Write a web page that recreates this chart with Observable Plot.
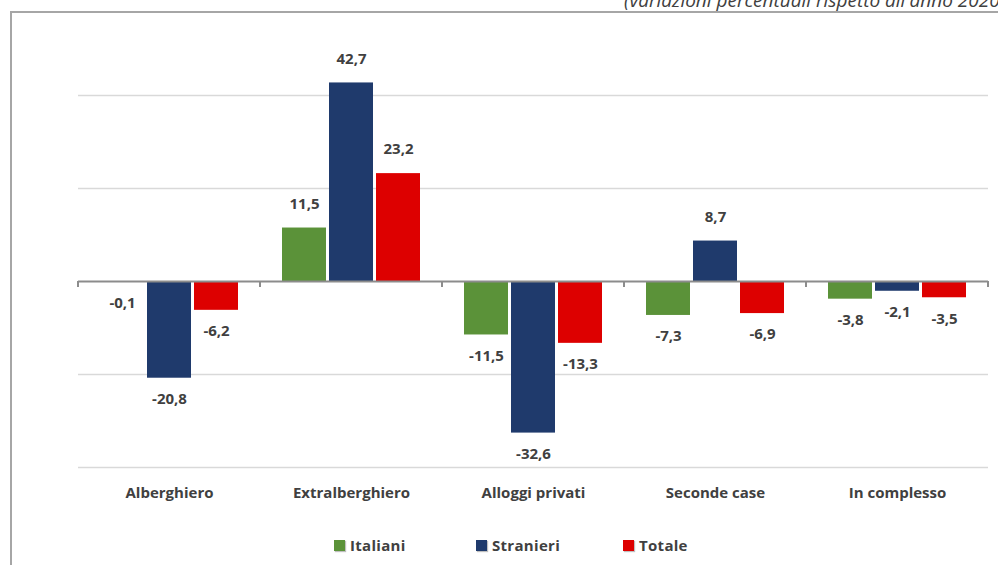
<!DOCTYPE html>
<html>
<head>
<meta charset="utf-8">
<script src="https://cdn.jsdelivr.net/npm/d3@7"></script>
<script src="https://cdn.jsdelivr.net/npm/@observablehq/plot@0.6"></script>
<style>
  html, body { margin: 0; padding: 0; background: #fff; }
  body { width: 998px; height: 565px; overflow: hidden; position: relative; font-family: "Open Sans", sans-serif; }
  #header { position: absolute; left: 624px; top: -13px; white-space: nowrap; font-style: italic; font-size: 19px; color: #404040; }
  #border { position: absolute; left: 10px; top: 11px; width: 1000px; height: 600px; border-left: 2px solid #a6a6a6; border-top: 2px solid #a6a6a6; box-sizing: border-box; }
  #chart { position: absolute; left: 0; top: 0; }
  #legend { position: absolute; top: 535px; left: 0; width: 998px; height: 20px; font-weight: 700; font-size: 15px; color: #404040; letter-spacing: 0.3px; }
  .item { position: absolute; display: flex; align-items: center; }
  .sw { width: 11px; height: 11px; margin-right: 5px; box-shadow: 1px 1px 1px rgba(0,0,0,0.25); }
</style>
</head>
<body>
<div id="header">(variazioni percentuali rispetto all'anno 2020)</div>
<div id="border"></div>
<div id="chart"></div>
<div id="legend"></div>
<script>
const categories = ["Alberghiero", "Extralberghiero", "Alloggi privati", "Seconde case", "In complesso"];
const series = ["Italiani", "Stranieri", "Totale"];
const italiani = [-0.1, 11.5, -11.5, -7.3, -3.8];
const stranieri = [-20.8, 42.7, -32.6, 8.7, -2.1];
const totale = [-6.2, 23.2, -13.3, -6.9, -3.5];
const colors = ["#5b9239", "#1f3a6c", "#dd0000"];
const gridValues = [-40, -20, 20, 40];

const values = [italiani, stranieri, totale];
const data = [];
categories.forEach((c, i) => series.forEach((s, j) => data.push({cat: c, ser: s, v: values[j][i]})));
const fmt = v => v.toFixed(1).replace(".", ",");

function boundaryTicks(index, scales, vals, dims) {
  const g = d3.create("svg:g");
  const y0 = scales.y(0);
  const xs = [dims.marginLeft, dims.width - dims.marginRight];
  for (const x of xs) {
    g.append("line").attr("x1", x).attr("x2", x).attr("y1", y0).attr("y2", y0 + 6)
      .attr("stroke", "#8c8c8c").attr("stroke-width", 2);
  }
  return g.node();
}

const textOpts = {fontSize: 15, fontWeight: 700, fill: "#404040", style: "letter-spacing:0.3px"};

const chart = Plot.plot({
  width: 998,
  height: 565,
  marginLeft: 78,
  marginRight: 10,
  marginTop: 48.5,
  marginBottom: 98,
  style: {fontFamily: "Open Sans, sans-serif", background: "transparent"},
  fx: {domain: categories, padding: 0, axis: null},
  x: {domain: series, paddingInner: 0.064, paddingOuter: 0.468, axis: null},
  y: {domain: [-40, 50], axis: null},
  color: {domain: series, range: colors},
  marks: [
    Plot.ruleY(gridValues, {stroke: "#d9d9d9", strokeWidth: 1.5}),
    Plot.barY(data, {fx: "cat", x: "ser", y: "v", fill: "ser",
      style: "filter: drop-shadow(1px 1.5px 1.5px rgba(0,0,0,0.3))"}),
    Plot.ruleY([0], {stroke: "#8c8c8c", strokeWidth: 2}),
    boundaryTicks,
    Plot.text(data.filter(d => d.v >= 0), {fx: "cat", x: "ser", y: "v", text: d => fmt(d.v), dy: -24, ...textOpts}),
    Plot.text(data.filter(d => d.v < 0), {fx: "cat", x: "ser", y: "v", text: d => fmt(d.v), dy: 21, ...textOpts}),
    Plot.axisFx({anchor: "bottom", tickSize: 0, tickPadding: 20, label: null, ...textOpts})
  ]
});
document.getElementById("chart").appendChild(chart);

// legend
const legend = document.getElementById("legend");
const legendX = [334, 476, 623];
series.forEach((s, i) => {
  const it = document.createElement("div");
  it.className = "item";
  it.style.left = legendX[i] + "px";
  it.innerHTML = `<span class="sw" style="background:${colors[i]}"></span><span>${s}</span>`;
  legend.appendChild(it);
});
</script>
</body>
</html>
